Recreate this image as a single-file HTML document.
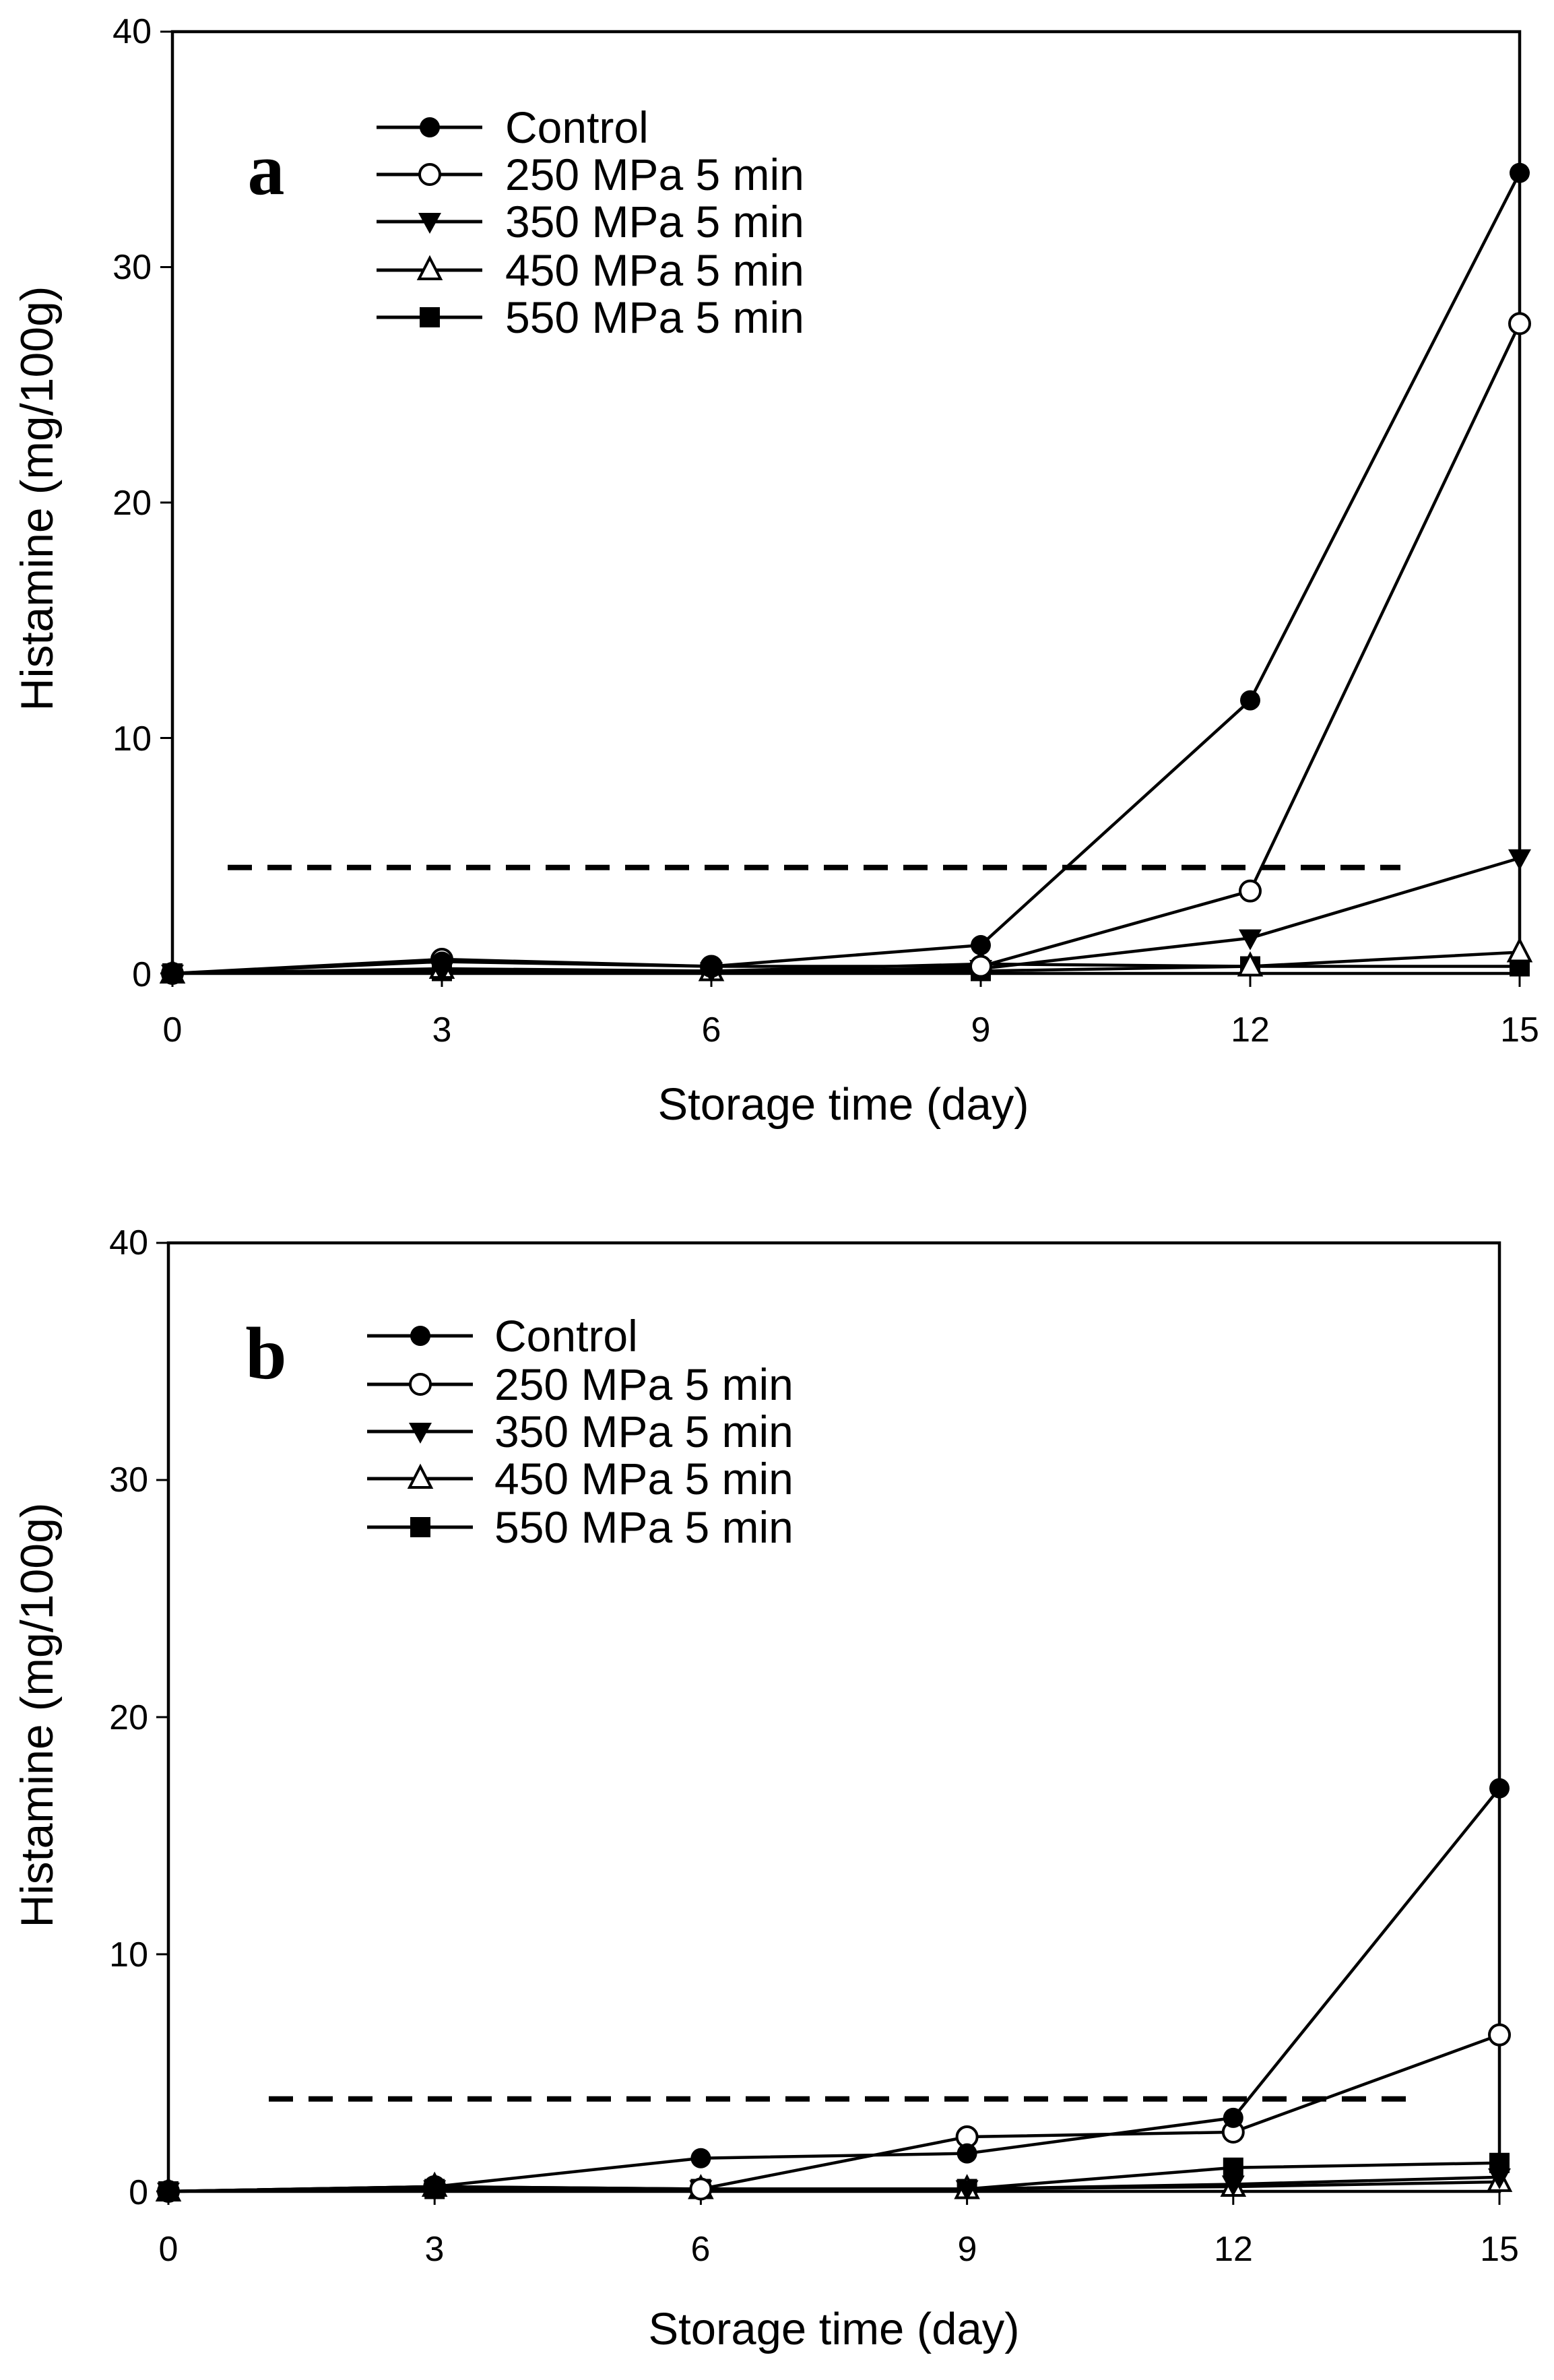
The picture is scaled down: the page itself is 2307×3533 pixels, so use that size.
<!DOCTYPE html>
<html><head><meta charset="utf-8"><style>
html,body{margin:0;padding:0;background:#fff;}
svg{display:block;}
text{font-family:"Liberation Sans",sans-serif;fill:#000;}
</style></head><body>
<svg id="s" width="2307" height="3533" viewBox="0 0 2307 3533" xmlns="http://www.w3.org/2000/svg">
<rect width="2307" height="3533" fill="#fff"/>
<!-- Panel a text -->
<g font-size="52" text-anchor="end">
<text x="225" y="1464">0</text>
<text x="225" y="1114">10</text>
<text x="225" y="764">20</text>
<text x="225" y="414">30</text>
<text x="225" y="64">40</text>
</g>
<g font-size="52" text-anchor="middle">
<text x="256" y="1546">0</text>
<text x="656" y="1546">3</text>
<text x="1056" y="1546">6</text>
<text x="1456" y="1546">9</text>
<text x="1856" y="1546">12</text>
<text x="2256" y="1546">15</text>
</g>
<text x="1252" y="1662" font-size="67" text-anchor="middle">Storage time (day)</text>
<text transform="translate(78,740) rotate(-90)" font-size="68" text-anchor="middle">Histamine  (mg/100g)</text>
<text x="395" y="288" font-size="110" font-weight="bold" text-anchor="middle" style="font-family:'Liberation Serif',serif">a</text>
<g font-size="66">
<text x="750" y="212">Control</text>
<text x="750" y="282">250 MPa 5 min</text>
<text x="750" y="352">350 MPa 5 min</text>
<text x="750" y="424">450 MPa 5 min</text>
<text x="750" y="494">550 MPa 5 min</text>
</g>
<!-- Panel b text -->
<g font-size="52" text-anchor="end">
<text x="220" y="3272">0</text>
<text x="220" y="2919">10</text>
<text x="220" y="2567">20</text>
<text x="220" y="2214">30</text>
<text x="220" y="1862">40</text>
</g>
<g font-size="52" text-anchor="middle">
<text x="250" y="3356">0</text>
<text x="645" y="3356">3</text>
<text x="1040" y="3356">6</text>
<text x="1436" y="3356">9</text>
<text x="1831" y="3356">12</text>
<text x="2226" y="3356">15</text>
</g>
<text x="1238" y="3480" font-size="67" text-anchor="middle">Storage time (day)</text>
<text transform="translate(78,2546) rotate(-90)" font-size="68" text-anchor="middle">Histamine  (mg/100g)</text>
<text x="395" y="2046" font-size="110" font-weight="bold" text-anchor="middle" style="font-family:'Liberation Serif',serif">b</text>
<g font-size="66">
<text x="734" y="2006">Control</text>
<text x="734" y="2078">250 MPa 5 min</text>
<text x="734" y="2148">350 MPa 5 min</text>
<text x="734" y="2218">450 MPa 5 min</text>
<text x="734" y="2290">550 MPa 5 min</text>
</g>
<g id="g"></g>
</svg>
<script>
var NS="http://www.w3.org/2000/svg",G=document.getElementById("g");
function el(t,a){var e=document.createElementNS(NS,t);for(var k in a)e.setAttribute(k,a[k]);G.appendChild(e);return e;}
function marker(type,x,y){var r=15;
 if(type==0)el("circle",{cx:x,cy:y,r:r,fill:"#000"});
 if(type==1)el("circle",{cx:x,cy:y,r:r,fill:"#fff",stroke:"#000","stroke-width":4});
 if(type==2)el("polygon",{points:(x-17)+","+(y-13)+" "+(x+17)+","+(y-13)+" "+x+","+(y+18),fill:"#000"});
 if(type==3)el("polygon",{points:(x-16)+","+(y+13)+" "+(x+16)+","+(y+13)+" "+x+","+(y-18),fill:"#fff",stroke:"#000","stroke-width":4});
 if(type==4)el("rect",{x:x-15,y:y-15,width:30,height:30,fill:"#000"});
}
function panel(P){
 var X=function(d){return P.x0+(P.x1-P.x0)*d/15},Y=function(v){return P.y0+(P.y40-P.y0)*v/40};
 el("rect",{x:P.x0,y:P.y40,width:P.x1-P.x0,height:P.y0-P.y40,fill:"none",stroke:"#000","stroke-width":4.5});
 for(var i=0;i<=4;i++)el("line",{x1:P.x0-18,x2:P.x0,y1:Y(i*10),y2:Y(i*10),stroke:"#000","stroke-width":3});
 for(var d=0;d<=15;d+=3)el("line",{x1:X(d),x2:X(d),y1:P.y0,y2:P.y0+20,stroke:"#000","stroke-width":3});
 el("line",{x1:P.dx0,x2:P.dx1,y1:Y(P.dy),y2:Y(P.dy),stroke:"#000","stroke-width":8,"stroke-dasharray":"36 23"});
 var days=[0,3,6,9,12,15];
 P.data.forEach(function(s,k){
  var pts=s.map(function(v,i){return X(days[i])+","+Y(v)}).join(" ");
  el("polyline",{points:pts,fill:"none",stroke:"#000","stroke-width":4.5});
 });
 for(var k=P.data.length-1;k>=0;k--)P.data[k].forEach(function(v,i){marker(k,X(days[i]),Y(v));});
 for(var k=0;k<5;k++){var y=P.ly[k];
  el("line",{x1:P.lx0,x2:P.lx0+157,y1:y,y2:y,stroke:"#000","stroke-width":5});
  marker(k,P.lx0+79,y);}
}
panel({x0:256,x1:2256,y0:1445,y40:47,dx0:338,dx1:2079,dy:4.5,lx0:559,ly:[189,259,329,401,471],
 data:[[0,0.5,0.3,1.2,11.6,34],[0,0.6,0.3,0.3,3.5,27.6],[0,0.1,0.1,0.2,1.5,4.9],[0,0.2,0.1,0.4,0.3,0.9],[0,0.1,0.1,0.1,0.3,0.3]]});
panel({x0:250,x1:2226,y0:3253,y40:1845,dx0:399,dx1:2095,dy:3.9,lx0:545,ly:[1983,2055,2125,2195,2267],
 data:[[0,0.2,1.4,1.6,3.1,17],[0,0.2,0.1,2.3,2.5,6.6],[0,0.1,0.1,0.1,0.3,0.6],[0,0.2,0.1,0.1,0.2,0.4],[0,0.1,0.1,0.1,1.0,1.2]]});
</script>
</body></html>
